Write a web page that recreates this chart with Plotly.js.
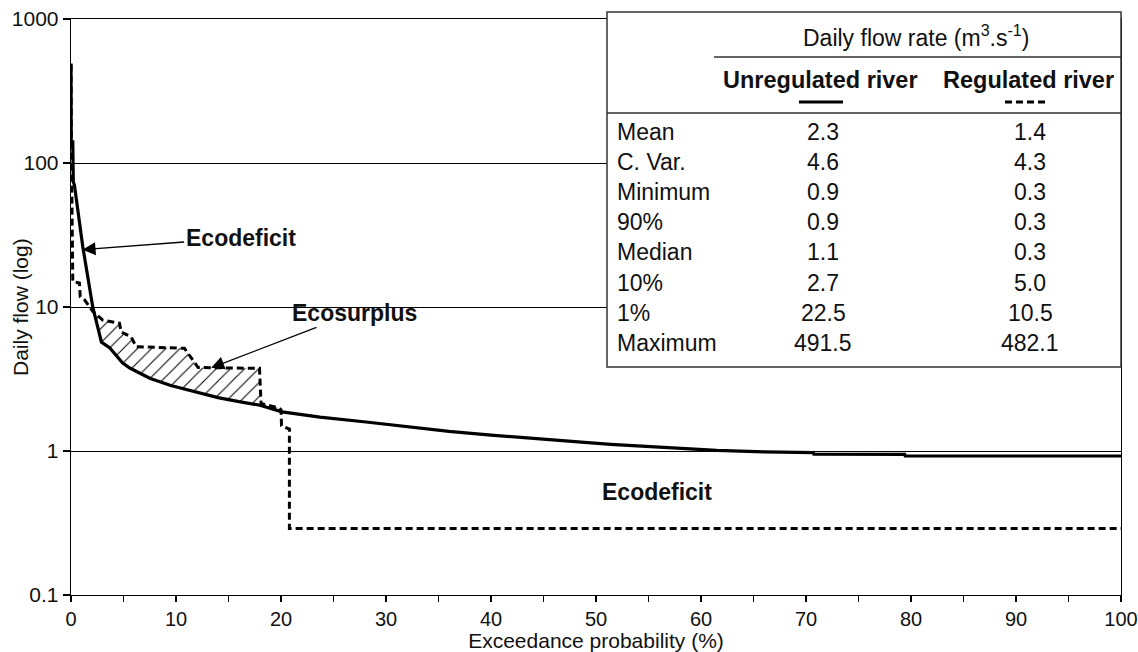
<!DOCTYPE html>
<html>
<head>
<meta charset="utf-8">
<script src="https://cdn.plot.ly/plotly-3.0.1.min.js"></script>
<style>html,body{margin:0;padding:0;background:#fff;}#chart{width:1138px;height:652px;}</style>
</head>
<body>
<div id="chart"></div>
<script>
// ---- Data ----
const unregX = [0, 0.02, 0.17, 0.22, 0.33, 1.12, 2.07, 2.9, 3.7, 4.9, 5.6, 7.5, 9.5, 11.6, 14, 16, 18, 20.1, 23.7, 28.1, 32, 36, 40, 44, 48, 51.4, 54.6, 58, 61.5, 66, 70.7, 70.75, 79.4, 79.45, 100];
const unregY = [491.5, 140, 140, 74, 70, 26.3, 10, 5.7, 5.2, 4.1, 3.77, 3.2, 2.85, 2.6, 2.35, 2.2, 2.08, 1.87, 1.72, 1.59, 1.47, 1.37, 1.29, 1.23, 1.16, 1.11, 1.08, 1.05, 1.01, 0.985, 0.975, 0.95, 0.948, 0.923, 0.923];

const regX = [0, 0.03, 0.17, 0.8, 0.88, 1.29, 1.76, 2.08, 3.03, 4.62, 4.78, 5.73, 6.2, 10.8, 11.6, 12.1, 17.95, 18.1, 18.7, 19.86, 20.0, 20.05, 20.8, 20.8, 100];
const regY = [482.1, 137, 15, 14.7, 11.8, 11.2, 10.05, 9.3, 8.1, 7.7, 6.7, 6.2, 5.3, 5.17, 4.28, 3.8, 3.75, 2.14, 2.09, 1.98, 1.93, 1.5, 1.42, 0.29, 0.29];

const xTickVals = [0, 10, 20, 30, 40, 50, 60, 70, 80, 90, 100];
const yTickVals = [0.1, 1, 10, 100, 1000];
const yTickText = ['0.1', '1', '10', '100', '1000'];

const tableTitle = 'Daily flow rate (m<sup>3</sup>.s<sup>-1</sup>)';
const seriesNames = ['Unregulated river', 'Regulated river'];
const statNames = ['Mean', 'C. Var.', 'Minimum', '90%', 'Median', '10%', '1%', 'Maximum'];
const unregStats = ['2.3', '4.6', '0.9', '0.9', '1.1', '2.7', '22.5', '491.5'];
const regStats = ['1.4', '4.3', '0.3', '0.3', '0.3', '5.0', '10.5', '482.1'];

const surplusRange = [2.07, 20.1];

// ---- Build hatched "ecosurplus" polygon from the series ----
const hx = [], hy = [];
for (let i = 0; i < regX.length; i++) {
  if (regX[i] >= surplusRange[0] && regX[i] <= 19.9) { hx.push(regX[i]); hy.push(regY[i]); }
}
for (let i = unregX.length - 1; i >= 0; i--) {
  if (unregX[i] >= surplusRange[0] && unregX[i] <= surplusRange[1]) { hx.push(unregX[i]); hy.push(unregY[i]); }
}

const FONT = 'Liberation Sans, Arial, Helvetica, sans-serif';
const TXT = '#111';
const L = 71, R = 1121, T = 19, B = 595;
const PX = p => (p - L) / (R - L);
const PY = p => (B - p) / (B - T);

const traces = [
  {x: hx, y: hy, type: 'scatter', mode: 'lines', fill: 'toself', fillcolor: 'rgba(255,255,255,1)',
   fillpattern: {shape: '/', fgcolor: '#000', bgcolor: '#fff', size: 10, solidity: 0.1},
   line: {width: 0}, hoverinfo: 'skip', showlegend: false},
  {x: regX, y: regY, type: 'scatter', mode: 'lines', name: seriesNames[1],
   line: {color: '#000', width: 3, dash: '7px,4px'}, showlegend: false},
  {x: unregX, y: unregY, type: 'scatter', mode: 'lines', name: seriesNames[0],
   line: {color: '#000', width: 3.2}, showlegend: false}
];

const annotations = [];
annotations.push({xref: 'paper', yref: 'paper', x: PX(20), y: PY(307), text: 'Daily flow (log)', showarrow: false,
  textangle: -90, font: {family: FONT, size: 21, color: TXT}, xanchor: 'center', yanchor: 'middle'});
annotations.push({x: 1.1, y: Math.log10(25), xref: 'x', yref: 'y', text: '<b>Ecodeficit</b>', showarrow: true,
  ax: 158, ay: -12, arrowhead: 2, arrowsize: 2, arrowwidth: 1.3, arrowcolor: '#000', standoff: 0,
  font: {family: FONT, size: 23, color: TXT}});
annotations.push({x: 13.35, y: Math.log10(3.78), xref: 'x', yref: 'y', text: '<b>Ecosurplus</b>', showarrow: true,
  ax: 143, ay: -55, arrowhead: 2, arrowsize: 2, arrowwidth: 1.3, arrowcolor: '#000', standoff: 0,
  font: {family: FONT, size: 23, color: TXT}});
annotations.push({x: 55.8, y: Math.log10(0.52), xref: 'x', yref: 'y', text: '<b>Ecodeficit</b>', showarrow: false,
  font: {family: FONT, size: 23, color: TXT}});
annotations.push({xref: 'paper', yref: 'paper', x: PX(916), y: PY(36), text: tableTitle, showarrow: false,
  font: {family: FONT, size: 23, color: TXT}, xanchor: 'center', yanchor: 'middle'});
annotations.push({xref: 'paper', yref: 'paper', x: PX(820), y: PY(80), text: '<b>' + seriesNames[0] + '</b>', showarrow: false,
  font: {family: FONT, size: 23.5, color: TXT}, xanchor: 'center', yanchor: 'middle'});
annotations.push({xref: 'paper', yref: 'paper', x: PX(1028), y: PY(80), text: '<b>' + seriesNames[1] + '</b>', showarrow: false,
  font: {family: FONT, size: 23.5, color: TXT}, xanchor: 'center', yanchor: 'middle'});
statNames.forEach((s, i) => {
  const py = 132 + 30.1 * i;
  annotations.push({xref: 'paper', yref: 'paper', x: PX(615), y: PY(py), text: s, showarrow: false,
    font: {family: FONT, size: 23, color: TXT}, xanchor: 'left', yanchor: 'middle'});
  annotations.push({xref: 'paper', yref: 'paper', x: PX(823), y: PY(py), text: unregStats[i], showarrow: false,
    font: {family: FONT, size: 23, color: TXT}, xanchor: 'center', yanchor: 'middle'});
  annotations.push({xref: 'paper', yref: 'paper', x: PX(1030), y: PY(py), text: regStats[i], showarrow: false,
    font: {family: FONT, size: 23, color: TXT}, xanchor: 'center', yanchor: 'middle'});
});

const shapes = [
  {type: 'rect', xref: 'paper', yref: 'paper', x0: PX(607), x1: PX(1121), y0: PY(367), y1: PY(12),
   fillcolor: '#fff', line: {color: '#333', width: 1.5}, layer: 'above'},
  {type: 'line', xref: 'paper', yref: 'paper', x0: PX(714), x1: PX(1121), y0: PY(57), y1: PY(57),
   line: {color: '#333', width: 1.3}, layer: 'above'},
  {type: 'line', xref: 'paper', yref: 'paper', x0: PX(607), x1: PX(1121), y0: PY(113), y1: PY(113),
   line: {color: '#333', width: 1.3}, layer: 'above'},
  {type: 'line', xref: 'paper', yref: 'paper', x0: PX(799), x1: PX(843), y0: PY(102), y1: PY(102),
   line: {color: '#000', width: 3.2}, layer: 'above'},
  {type: 'line', xref: 'paper', yref: 'paper', x0: PX(1005), x1: PX(1048), y0: PY(102), y1: PY(102),
   line: {color: '#000', width: 3.2, dash: '7px,4px'}, layer: 'above'}
];

const layout = {
  width: 1138, height: 652,
  margin: {l: L, r: 1138 - R, t: T, b: 652 - B, pad: 0},
  paper_bgcolor: '#fff', plot_bgcolor: '#fff',
  font: {family: FONT, size: 21, color: TXT},
  showlegend: false,
  xaxis: {
    range: [0, 100], tickvals: xTickVals, ticks: 'outside', ticklen: 6, tickwidth: 1.2, tickcolor: '#000',
    showline: true, linecolor: '#000', linewidth: 1.3, mirror: true, showgrid: false, zeroline: false,
    ticklabeloverflow: 'allow',
    tickfont: {family: FONT, size: 20, color: TXT},
    minor: {dtick: 5, ticks: 'outside', ticklen: 6, tickwidth: 1.2, tickcolor: '#000', showgrid: false},
    title: {text: 'Exceedance probability (%)', font: {family: FONT, size: 21, color: TXT}, standoff: 2}
  },
  yaxis: {
    type: 'log', range: [-1, 3], tickvals: yTickVals, ticktext: yTickText, ticks: 'outside', ticklen: 7,
    tickwidth: 1.2, tickcolor: '#000', showline: true, linecolor: '#000', linewidth: 1.3, mirror: true,
    showgrid: true, gridcolor: '#000', gridwidth: 1, zeroline: false,
    tickfont: {family: FONT, size: 21, color: TXT}
  },
  annotations: annotations,
  shapes: shapes
};

Plotly.newPlot('chart', traces, layout, {staticPlot: true, displayModeBar: false});
</script>
</body>
</html>
